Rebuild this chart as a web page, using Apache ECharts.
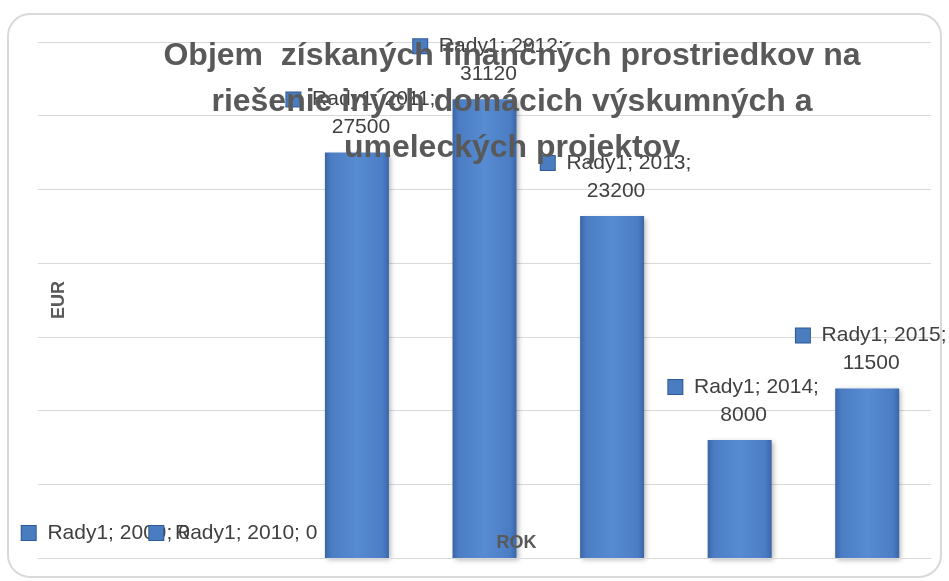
<!DOCTYPE html>
<html>
<head>
<meta charset="utf-8">
<script src="https://cdn.jsdelivr.net/npm/echarts@6/dist/echarts.min.js"></script>
<style>
  html, body { margin: 0; padding: 0; background: #fff; }
  #myChart { width: 949px; height: 581px; }
</style>
</head>
<body>
<div id="myChart"></div>
<script>
// data
var roky = ['2009', '2010', '2011', '2012', '2013', '2014', '2015'];
var hodnoty = [0, 0, 27500, 31120, 23200, 8000, 11500];
var nazovRady = 'Rady1';
var osY = { min: 0, max: 35000, interval: 5000 };

var myChart = echarts.init(document.getElementById('myChart'));

myChart.setOption({
  animation: false,
  title: {
    text: 'Objem  získaných finančných prostriedkov na\nriešenie iných domácich výskumných a\numeleckých projektov',
    left: 512,
    top: 33,
    padding: 0,
    textAlign: 'center',
    z: 10,
    textStyle: {
      fontFamily: 'Liberation Sans',
      fontWeight: 'bold',
      fontSize: 32,
      lineHeight: 46,
      color: '#595959'
    }
  },
  graphic: [{
    type: 'rect',
    shape: { x: 8, y: 14, width: 933, height: 563, r: 22 },
    style: { fill: 'none', stroke: '#d9d9d9', lineWidth: 2 },
    silent: true
  }],
  grid: {
    left: 38,
    right: 18,
    top: 42,
    bottom: 23
  },
  xAxis: {
    type: 'category',
    data: roky,
    name: 'ROK',
    nameLocation: 'middle',
    nameGap: -24,
    nameTextStyle: {
      fontFamily: 'Liberation Sans',
      fontWeight: 'bold',
      fontSize: 18,
      color: '#595959',
      padding: [0, 0, 0, 64]
    },
    axisLine: { lineStyle: { color: '#d9d9d9', width: 1 } },
    axisTick: { show: false },
    axisLabel: { show: false },
    z: 5
  },
  yAxis: {
    type: 'value',
    min: osY.min,
    max: osY.max,
    interval: osY.interval,
    name: 'EUR',
    nameLocation: 'middle',
    nameGap: -30,
    nameTextStyle: {
      fontFamily: 'Liberation Sans',
      fontWeight: 'bold',
      fontSize: 18,
      color: '#595959'
    },
    axisLine: { show: false },
    axisTick: { show: false },
    axisLabel: { show: false },
    splitLine: { lineStyle: { color: '#d9d9d9', width: 1 } }
  },
  series: [{
    name: nazovRady,
    type: 'bar',
    data: hodnoty,
    barWidth: 64,
    itemStyle: {
      color: new echarts.graphic.LinearGradient(0, 0, 1, 0, [
        { offset: 0, color: '#3a66a8' },
        { offset: 0.1, color: '#4b7dc3' },
        { offset: 0.5, color: '#578cd2' },
        { offset: 0.9, color: '#4b7dc3' },
        { offset: 1, color: '#3a66a8' }
      ]),
      borderWidth: 0,
      shadowColor: 'rgba(0,0,0,0.3)',
      shadowBlur: 5,
      shadowOffsetX: 2,
      shadowOffsetY: 2
    },
    label: {
      show: true,
      position: 'top',
      distance: 11,
      offset: [4, 0],
      fontFamily: 'Liberation Sans',
      fontSize: 21,
      lineHeight: 28,
      color: '#404040',
      formatter: function (p) {
        if (p.value === 0) {
          return '{sq|}  ' + p.seriesName + '; ' + p.name + '; ' + p.value;
        }
        return '{sq|}  ' + p.seriesName + '; ' + p.name + ';\n' + p.value;
      },
      rich: {
        sq: {
          width: 14,
          height: 14,
          backgroundColor: '#4a7cc0',
          borderColor: '#2f5a99',
          borderWidth: 1
        }
      }
    }
  }]
});
</script>
</body>
</html>
